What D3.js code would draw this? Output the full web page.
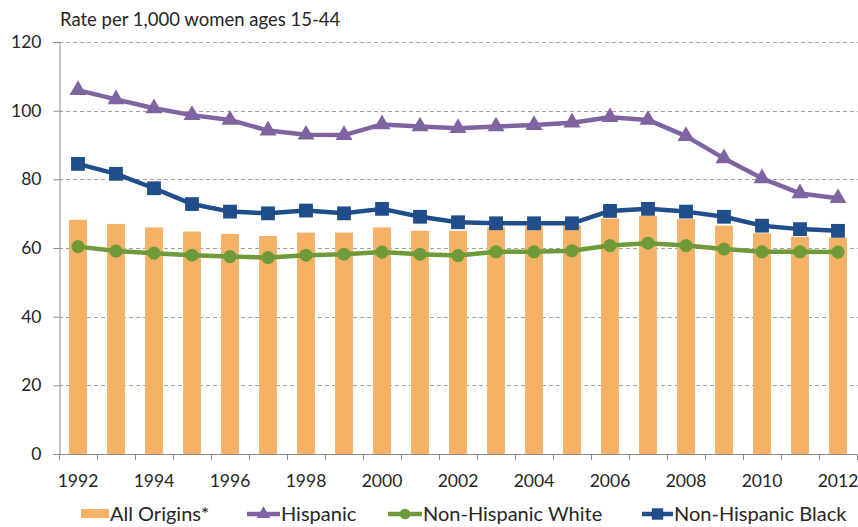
<!DOCTYPE html>
<html>
<head>
<meta charset="utf-8">
<script src="https://cdn.jsdelivr.net/npm/d3@7/dist/d3.min.js"></script>
<style>
  html, body { margin: 0; padding: 0; background: #fff; }
  svg { display: block; font-family: Lato, "Open Sans", sans-serif; }
</style>
</head>
<body>
<svg id="chart" width="858" height="527"></svg>
<script>
// Fertility rates by Hispanic origin and race, 1992-2012
const years = d3.range(1992, 2013);
const allOrigins = [68.2, 67.0, 66.0, 64.8, 64.1, 63.5, 64.5, 64.5, 66.0, 65.0,
                    65.0, 66.1, 66.4, 66.7, 68.6, 69.4, 68.4, 66.5, 64.3, 63.3, 63.0];
const hispanic   = [106.0, 103.3, 100.7, 98.7, 97.3, 94.2, 93.0, 92.9, 96.0, 95.4,
                    94.9, 95.4, 95.8, 96.5, 98.1, 97.3, 92.6, 86.1, 80.3, 75.9, 74.5];
const nhWhite    = [60.4, 59.1, 58.5, 57.9, 57.5, 57.2, 57.9, 58.2, 58.8, 58.2,
                    57.8, 58.9, 58.9, 59.2, 60.7, 61.4, 60.7, 59.7, 58.9, 58.9, 58.8];
const nhBlack    = [84.5, 81.6, 77.4, 72.8, 70.6, 70.1, 70.9, 70.1, 71.4, 69.1,
                    67.5, 67.2, 67.2, 67.2, 70.8, 71.4, 70.6, 69.1, 66.5, 65.5, 65.0];
const yTicks = [0, 20, 40, 60, 80, 100, 120];
const xLabelYears = years.filter(y => y % 2 === 0);
const yAxisTitle = "Rate per 1,000 women ages 15-44";

const COLORS = { bar: "#F5B266", hisp: "#8064A2", white: "#6F9A39", black: "#1F4E8A",
                 grid: "#A0A0A0", axis: "#8C8C8C", text: "#262626" };

const svg = d3.select("#chart");
const plot = { left: 59, right: 857, top: 42, bottom: 454 };

const x = d3.scaleBand().domain(years).range([plot.left, plot.right])
  .paddingInner(0.53).paddingOuter(0.265);
const y = d3.scaleLinear().domain([0, 120]).range([plot.bottom, plot.top]);
const cx = yr => x(yr) + x.bandwidth() / 2;

// horizontal dashed gridlines
svg.append("g").selectAll("line").data(yTicks.filter(v => v > 0)).join("line")
  .attr("x1", plot.left).attr("x2", 858)
  .attr("y1", d => Math.round(y(d)) + 0.5).attr("y2", d => Math.round(y(d)) + 0.5)
  .attr("stroke", COLORS.grid).attr("stroke-width", 1).attr("stroke-dasharray", "4,3");

// All origins bars
svg.append("g").selectAll("rect").data(years).join("rect")
  .attr("x", d => x(d)).attr("width", x.bandwidth())
  .attr("y", (d, i) => y(allOrigins[i]))
  .attr("height", (d, i) => y(0) - y(allOrigins[i]))
  .attr("fill", COLORS.bar);

// y axis
const yAxis = svg.append("g").attr("transform", `translate(${plot.left + 0.5},0)`)
  .call(d3.axisLeft(y).tickValues(yTicks).tickSize(6).tickPadding(12));
yAxis.select(".domain").attr("stroke", COLORS.axis);
yAxis.selectAll(".tick line").attr("stroke", COLORS.axis);
yAxis.selectAll(".tick text").attr("fill", COLORS.text)
  .style("font-size", "17.5px").style("font-family", "Lato, sans-serif");

// x axis: tick marks on category boundaries, labels on even years
const boundaries = years.map(d => x(d) - x.step() * x.paddingInner() / 2).concat([plot.right]);
const xAxisG = svg.append("g");
xAxisG.append("line").attr("x1", plot.left).attr("x2", 858)
  .attr("y1", plot.bottom + 0.5).attr("y2", plot.bottom + 0.5).attr("stroke", COLORS.axis);
xAxisG.selectAll("line.tk").data(boundaries).join("line").attr("class", "tk")
  .attr("x1", d => Math.round(d) + 0.5).attr("x2", d => Math.round(d) + 0.5)
  .attr("y1", plot.bottom).attr("y2", plot.bottom + 6).attr("stroke", COLORS.axis);
xAxisG.selectAll("text").data(xLabelYears).join("text")
  .attr("x", d => cx(d)).attr("y", 487).attr("text-anchor", "middle")
  .attr("fill", COLORS.text).style("font-size", "17.5px").text(d => d);

// axis title
svg.append("text").attr("x", 60).attr("y", 26).attr("fill", COLORS.text)
  .style("font-size", "18.5px").text(yAxisTitle);

// series lines with markers
const series = [
  { name: "Hispanic", values: hispanic, color: COLORS.hisp, symbol: d3.symbolTriangle, size: 125 },
  { name: "Non-Hispanic White", values: nhWhite, color: COLORS.white, symbol: d3.symbolCircle, size: 135 },
  { name: "Non-Hispanic Black", values: nhBlack, color: COLORS.black, symbol: d3.symbolSquare, size: 190 }
];
const line = d3.line().x(d => cx(d.year)).y(d => y(d.v));
series.forEach(s => {
  const pts = years.map((yr, i) => ({ year: yr, v: s.values[i] }));
  const g = svg.append("g");
  g.append("path").datum(pts).attr("d", line).attr("fill", "none")
    .attr("stroke", s.color).attr("stroke-width", 4.5).attr("stroke-linejoin", "round");
  g.selectAll("path.m").data(pts).join("path").attr("class", "m")
    .attr("transform", d => `translate(${cx(d.year)},${y(d.v)})`)
    .attr("d", d3.symbol(s.symbol, s.size)).attr("fill", s.color);
});

// legend
const legend = svg.append("g").style("font-size", "20px").attr("fill", COLORS.text);
const ly = 514;
legend.append("rect").attr("x", 81).attr("y", ly - 5).attr("width", 28).attr("height", 9)
  .attr("fill", COLORS.bar);
legend.append("text").attr("x", 110).attr("y", ly + 7).text("All Origins*");
const legendLines = [
  { s: series[0], x0: 247, x1: 280, sz: 80 },
  { s: series[1], x0: 388, x1: 422, sz: 90 },
  { s: series[2], x0: 642, x1: 673, sz: 130 }
];
legendLines.forEach(l => {
  legend.append("line").attr("x1", l.x0).attr("x2", l.x1).attr("y1", ly).attr("y2", ly)
    .attr("stroke", l.s.color).attr("stroke-width", 4.5);
  legend.append("path").attr("transform", `translate(${(l.x0 + l.x1) / 2},${ly})`)
    .attr("d", d3.symbol(l.s.symbol, l.sz)).attr("fill", l.s.color);
  legend.append("text").attr("x", l.x1 + 1).attr("y", ly + 7).text(l.s.name);
});
</script>
</body>
</html>
